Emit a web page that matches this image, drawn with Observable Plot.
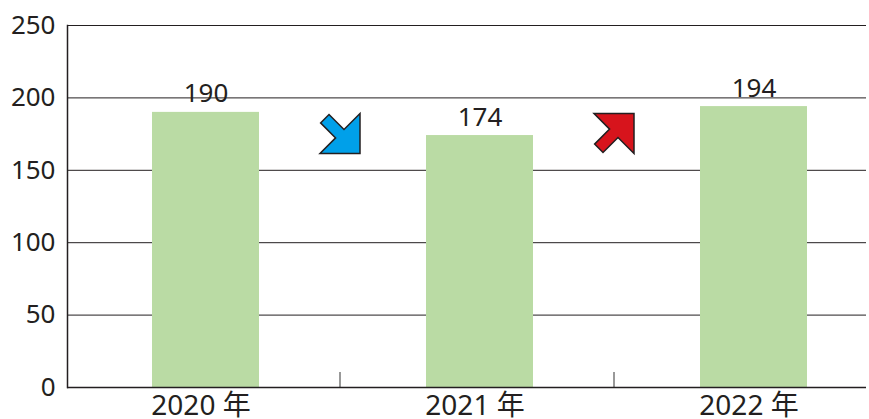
<!DOCTYPE html>
<html><head><meta charset="utf-8">
<script src="https://cdn.jsdelivr.net/npm/d3@7"></script>
<script src="https://cdn.jsdelivr.net/npm/@observablehq/plot@0.6"></script>
<style>body{margin:0;background:#fff} svg{display:block}</style>
</head><body><div id="chart"></div>
<script>
const categories = ["2020 年", "2021 年", "2022 年"];
const values = [190, 174, 194];
const yTicks = [0, 50, 100, 150, 200, 250];
const arrowFrom = ["2020 年", "2021 年"];
const arrowDir = ["down", "up"];

const data = categories.map((c, i) => ({year: c, value: values[i]}));
const arrows = arrowFrom.map((c, i) => ({from: c, dir: arrowDir[i]}));

function arrowSymbol(up) {
  const pts = [[1,-1],[1,1],[-1,1],[-0.22,0.22],[-0.97,-0.53],[-0.55,-0.95],[0.2,-0.2]];
  return {draw(ctx, size) {
    const r = Math.sqrt(size / Math.PI);
    pts.forEach(([x, y], i) => {
      const yy = up ? -y : y;
      if (i) ctx.lineTo(x * r, yy * r); else ctx.moveTo(x * r, yy * r);
    });
    ctx.closePath();
  }};
}

const ink = "#231f20";
const chart = Plot.plot({
  width: 869,
  height: 419,
  marginLeft: 67,
  marginRight: 3,
  marginTop: 25,
  marginBottom: 32,
  style: {fontFamily: "'Noto Sans', 'Noto Sans CJK JP', sans-serif", background: "white", color: ink},
  x: {type: "band", domain: categories, range: [15, 944], paddingInner: 0.61, paddingOuter: 0.5, label: null},
  y: {domain: [0, 250], label: null},
  marks: [
    Plot.gridY(yTicks, {stroke: ink, strokeOpacity: 1, strokeWidth: 1}),
    Plot.barY(data, {x: "year", y: "value", fill: "#badba4"}),
    Plot.text(data, {x: "year", y: "value", text: d => String(d.value), lineAnchor: "bottom", dy: -10, fontSize: 26, fill: ink}),
    Plot.ruleX(categories.slice(1), {dx: -140, insetTop: 347, stroke: "#777", strokeWidth: 1.5}),
    Plot.ruleY([0], {stroke: ink, strokeWidth: 1.5}),
    Plot.frame({anchor: "left", stroke: ink, strokeWidth: 1.5}),
    Plot.axisY(yTicks, {tickSize: 0, tickPadding: 12, fontSize: 26, fill: ink}),
    Plot.axisX({tickSize: 0, tickPadding: 8, fontSize: 28, dx: -5, fill: ink}),
    Plot.dot(arrows.filter(d => d.dir === "down"), {x: "from", frameAnchor: "top", dx: 134, dy: 108, r: 20,
      symbol: arrowSymbol(false), fill: "#00a0e9", stroke: ink, strokeWidth: 1.5, strokeLinejoin: "miter"}),
    Plot.dot(arrows.filter(d => d.dir === "up"), {x: "from", frameAnchor: "top", dx: 134, dy: 108, r: 20,
      symbol: arrowSymbol(true), fill: "#d7141c", stroke: ink, strokeWidth: 1.5, strokeLinejoin: "miter"})
  ]
});
document.getElementById("chart").appendChild(chart);
</script>
</body></html>
